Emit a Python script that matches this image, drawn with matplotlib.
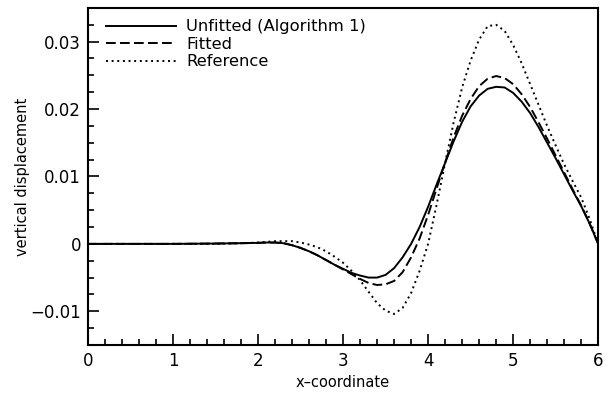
import matplotlib
matplotlib.use("Agg")
import matplotlib.pyplot as plt
from matplotlib.ticker import MultipleLocator, FuncFormatter

# x positions of samples
x = [0.0, 0.5, 1.0, 1.5, 1.8, 2.0, 2.1, 2.2, 2.3, 2.4, 2.5, 2.6, 2.7, 2.8, 2.9,
     3.0, 3.1, 3.2, 3.3, 3.4, 3.5, 3.6, 3.7, 3.8, 3.9,
     4.0, 4.1, 4.2, 4.3, 4.4, 4.5, 4.6, 4.7, 4.8, 4.9,
     5.0, 5.1, 5.2, 5.3, 5.4, 5.5, 5.6, 5.7, 5.8, 5.9, 6.0]

unfitted = [0.0, 0.0, 0.0, 0.00005, 0.0001, 0.00015, 0.0002, 0.0002, 0.0001, -0.0002,
            -0.0006, -0.0011, -0.0017, -0.0024, -0.0031,
            -0.0037, -0.0043, -0.0047, -0.0050, -0.0050, -0.0046, -0.0036, -0.0020, 0.0000, 0.0025,
            0.0055, 0.0088, 0.0120, 0.0152, 0.0181, 0.0204, 0.0220, 0.0230, 0.0233, 0.0232,
            0.0224, 0.0211, 0.0194, 0.0173, 0.0150, 0.0127, 0.0103, 0.0079, 0.0056, 0.0030, 0.0]

fitted = [0.0, 0.0, 0.0, 0.00005, 0.0001, 0.00015, 0.0002, 0.0002, 0.0001, -0.0002,
          -0.0006, -0.0011, -0.0017, -0.0024, -0.0031,
          -0.0038, -0.0045, -0.0052, -0.0058, -0.0061, -0.0060, -0.0055, -0.0042, -0.0020, 0.0008,
          0.0043, 0.0082, 0.0121, 0.0158, 0.0190, 0.0215, 0.0234, 0.0245, 0.0249, 0.0246,
          0.0237, 0.0222, 0.0203, 0.0180, 0.0156, 0.0131, 0.0106, 0.0081, 0.0057, 0.0030, 0.0]

reference = [0.0, 0.0, 0.0, 0.0, 0.0001, 0.0002, 0.0003, 0.0004, 0.0004, 0.0004,
             0.0002, -0.0001, -0.0005, -0.0011, -0.0019,
             -0.0028, -0.0040, -0.0054, -0.0071, -0.0088, -0.0099, -0.0104, -0.0095, -0.0073, -0.0040,
             0.0000, 0.0058, 0.0120, 0.0180, 0.0232, 0.0272, 0.0303, 0.0323, 0.0325, 0.0316,
             0.0295, 0.0268, 0.0237, 0.0206, 0.0175, 0.0146, 0.0118, 0.0093, 0.0069, 0.0037, 0.0]

fig = plt.figure(figsize=(6.11, 3.97), dpi=100)
ax = fig.add_axes([0.144, 0.131, 0.835, 0.849])

ax.plot(x, unfitted, color="black", lw=1.4, ls="-", label="Unfitted (Algorithm 1)")
ax.plot(x, fitted, color="black", lw=1.4, ls=(0, (5, 2.2)), label="Fitted")
ax.plot(x, reference, color="black", lw=1.4, ls=(0, (1, 1.9)), label="Reference")

ax.set_xlim(0, 6)
ax.set_ylim(-0.015, 0.035)
ax.xaxis.set_major_locator(MultipleLocator(1))
ax.xaxis.set_minor_locator(MultipleLocator(0.2))
ax.yaxis.set_major_locator(MultipleLocator(0.01))
ax.yaxis.set_minor_locator(MultipleLocator(0.0025))
ax.yaxis.set_major_formatter(FuncFormatter(lambda v, p: f"{v:.2f}".rstrip("0").rstrip(".").replace("-", "\u2212") if abs(v) > 1e-9 else "0"))
ax.tick_params(which="both", direction="in", top=False, right=False, labelsize=12, width=1.2)
ax.tick_params(which="major", length=8, pad=5)
ax.tick_params(which="minor", length=4)
for s in ax.spines.values():
    s.set_linewidth(1.5)

ax.set_xlabel("x\u2013coordinate", fontsize=10.5)
ax.set_ylabel("vertical displacement", fontsize=10.5, labelpad=0)

ax.legend(loc="upper left", bbox_to_anchor=(0.012, 1.0), frameon=False, fontsize=11.8,
          handlelength=4.3, handletextpad=0.6, labelspacing=0.15, borderaxespad=0.3)

fig.savefig("out.png", dpi=100)
